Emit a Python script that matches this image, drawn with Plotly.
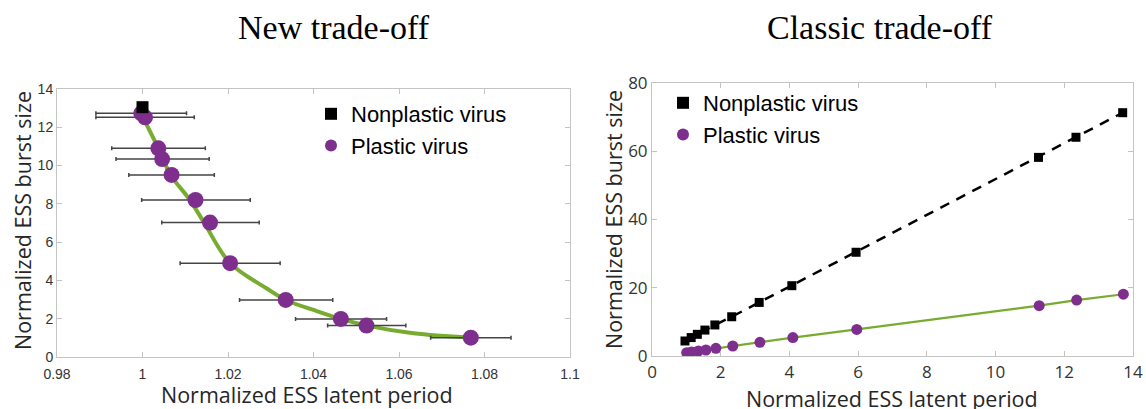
import plotly.graph_objects as go

W, H = 1146, 409

# ---------- Left panel: New trade-off ----------
new_nonplastic_x = [1.0]
new_nonplastic_y = [13.05]

new_plastic_x = [0.9997, 1.0006, 1.0037, 1.0046, 1.0068, 1.0124, 1.0158, 1.0205, 1.0335, 1.0464, 1.0524, 1.0768]
new_plastic_y = [12.73, 12.52, 10.90, 10.34, 9.51, 8.20, 7.02, 4.90, 2.98, 1.99, 1.64, 1.01]
new_err_plus = [0.0106, 0.0115, 0.0110, 0.0110, 0.0100, 0.0128, 0.0115, 0.0117, 0.0110, 0.0107, 0.0092, 0.0094]
new_err_minus = [0.0106, 0.0115, 0.0109, 0.0108, 0.0100, 0.0126, 0.0113, 0.0117, 0.0108, 0.0106, 0.0091, 0.0094]

fit_x = [0.9997, 1.0037, 1.0066, 1.0111, 1.0144, 1.0205, 1.0290, 1.0335, 1.0400, 1.0464, 1.0525, 1.0634, 1.0768]
fit_y = [12.70, 10.90, 9.51, 8.20, 7.02, 4.90, 3.59, 2.98, 2.46, 1.99, 1.64, 1.24, 1.01]

left_xticks = [0.98, 1.0, 1.02, 1.04, 1.06, 1.08, 1.1]
left_xticklabels = ["0.98", "1", "1.02", "1.04", "1.06", "1.08", "1.1"]
left_yticks = [0, 2, 4, 6, 8, 10, 12, 14]

# ---------- Right panel: Classic trade-off ----------
cls_nonplastic_x = [0.96, 1.14, 1.32, 1.54, 1.83, 2.32, 3.12, 4.07, 5.94, 11.25, 12.34, 13.70]
cls_nonplastic_y = [4.4, 5.4, 6.35, 7.6, 9.1, 11.5, 15.7, 20.6, 30.4, 58.2, 64.1, 71.3]

cls_plastic_x = [1.01, 1.15, 1.35, 1.57, 1.86, 2.35, 3.14, 4.10, 5.96, 11.27, 12.36, 13.72]
cls_plastic_y = [0.97, 1.17, 1.47, 1.76, 2.25, 2.93, 4.0, 5.4, 7.8, 14.75, 16.4, 18.1]

right_xticks = [0, 2, 4, 6, 8, 10, 12, 14]
right_yticks = [0, 20, 40, 60, 80]

PURPLE = "#7E2F8E"
GREEN = "#77AC30"
AXCOL = "#c4c4c4"
TXT = "#262626"

fig = go.Figure()

# Left panel traces
fig.add_trace(go.Scatter(x=fit_x, y=fit_y, mode="lines", line=dict(color=GREEN, width=4, shape="spline", smoothing=1.0),
                         showlegend=False, xaxis="x", yaxis="y", hoverinfo="skip"))
fig.add_trace(go.Scatter(x=new_plastic_x, y=new_plastic_y, mode="markers", name="Plastic virus",
                         marker=dict(symbol="circle", size=16, color=PURPLE),
                         error_x=dict(type="data", array=new_err_plus, arrayminus=new_err_minus, symmetric=False,
                                      color="#444444", thickness=1.5, width=2),
                         xaxis="x", yaxis="y", legend="legend", legendgroup="b", legendrank=2))
fig.add_trace(go.Scatter(x=new_nonplastic_x, y=new_nonplastic_y, mode="markers", name="Nonplastic virus",
                         marker=dict(symbol="square", size=12, color="black"),
                         xaxis="x", yaxis="y", legend="legend", legendgroup="a", legendrank=1))

# Right panel traces
fig.add_trace(go.Scatter(x=cls_nonplastic_x, y=cls_nonplastic_y, mode="lines",
                         line=dict(color="black", width=2.5, dash="10px,8px"),
                         showlegend=False, xaxis="x2", yaxis="y2", hoverinfo="skip"))
fig.add_trace(go.Scatter(x=cls_plastic_x, y=cls_plastic_y, mode="lines",
                         line=dict(color=GREEN, width=2.2),
                         showlegend=False, xaxis="x2", yaxis="y2", hoverinfo="skip"))
fig.add_trace(go.Scatter(x=cls_nonplastic_x, y=cls_nonplastic_y, mode="markers", name="Nonplastic virus",
                         marker=dict(symbol="square", size=9, color="black"),
                         xaxis="x2", yaxis="y2", legend="legend2", legendgroup="a", legendrank=1))
fig.add_trace(go.Scatter(x=cls_plastic_x, y=cls_plastic_y, mode="markers", name="Plastic virus",
                         marker=dict(symbol="circle", size=11, color=PURPLE),
                         xaxis="x2", yaxis="y2", legend="legend2", legendgroup="b", legendrank=2))

def px_x(p):
    return p / W

def px_y(p):
    return (H - p) / H

axis_common = dict(showline=True, linecolor=AXCOL, linewidth=1, mirror="ticks", ticks="inside",
                   tickcolor=AXCOL, ticklen=5, showgrid=False, zeroline=False, automargin=False)

fig.update_layout(
    width=W, height=H,
    margin=dict(l=0, r=0, t=0, b=0),
    paper_bgcolor="white", plot_bgcolor="white",
    xaxis=dict(domain=[px_x(57), px_x(570)], range=[0.98, 1.1], tickvals=left_xticks, ticktext=left_xticklabels,
               tickfont=dict(family="Liberation Sans", size=14, color="#333333"), anchor="y",
               ticklabelstandoff=4, **axis_common),
    yaxis=dict(domain=[px_y(357), px_y(89)], range=[0, 14], tickvals=left_yticks,
               tickfont=dict(family="Liberation Sans", size=14, color="#333333"), anchor="x", **axis_common),
    xaxis2=dict(domain=[px_x(652), px_x(1133)], range=[0, 14], tickvals=right_xticks,
                tickfont=dict(family="Open Sans", size=17, color="#333333"), anchor="y2",
                ticklabelstandoff=1, **axis_common),
    yaxis2=dict(domain=[px_y(356), px_y(83)], range=[0, 80], tickvals=right_yticks,
                tickfont=dict(family="Open Sans", size=17, color="#333333"), anchor="x2", **axis_common),
    legend=dict(x=px_x(311), y=px_y(93), xanchor="left", yanchor="top", bgcolor="rgba(0,0,0,0)",
                font=dict(family="Liberation Sans", size=22, color="black"), traceorder="grouped",
                tracegroupgap=0, itemsizing="constant"),
    legend2=dict(x=px_x(663), y=px_y(82), xanchor="left", yanchor="top", bgcolor="rgba(0,0,0,0)",
                 font=dict(family="Liberation Sans", size=22, color="black"), traceorder="grouped",
                 tracegroupgap=0, itemsizing="constant"),
    showlegend=True,
)

annotations = [
    dict(text="New trade-off", x=px_x(334), y=px_y(28), font=dict(family="Liberation Serif", size=34, color="black")),
    dict(text="Classic trade-off", x=px_x(880), y=px_y(28), font=dict(family="Liberation Serif", size=34, color="black")),
    dict(text="Normalized ESS latent period", x=px_x(307), y=px_y(394), font=dict(family="Open Sans", size=21.5, color=TXT)),
    dict(text="Normalized ESS burst size", x=px_x(22), y=px_y(221), textangle=-90, font=dict(family="Open Sans", size=21.5, color=TXT)),
    dict(text="Normalized ESS latent period", x=px_x(892), y=px_y(398), font=dict(family="Open Sans", size=21.5, color=TXT)),
    dict(text="Normalized ESS burst size", x=px_x(613), y=px_y(220), textangle=-90, font=dict(family="Open Sans", size=21.5, color=TXT)),
]
for a in annotations:
    a.update(xref="paper", yref="paper", showarrow=False, xanchor="center", yanchor="middle")
fig.update_layout(annotations=annotations)

fig.write_html("out.html")
